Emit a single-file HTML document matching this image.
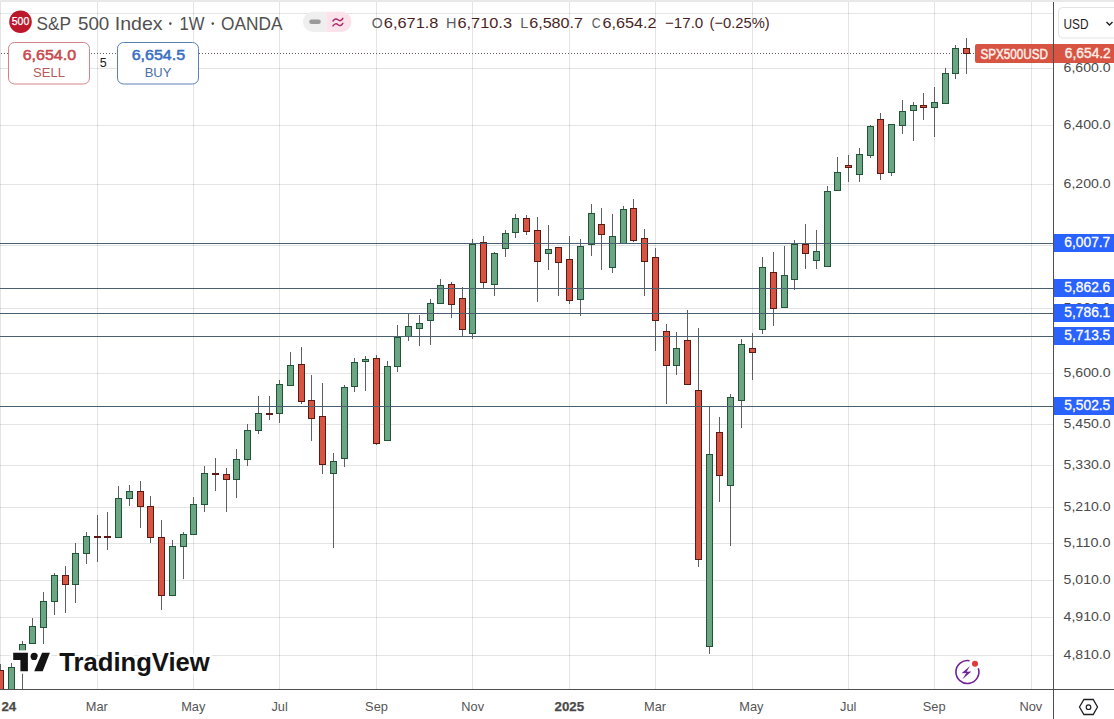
<!DOCTYPE html>
<html><head><meta charset="utf-8"><title>S&amp;P 500 Index chart</title>
<style>
html,body{margin:0;padding:0;background:#fff;}
body{width:1114px;height:719px;overflow:hidden;position:relative;font-family:'Liberation Sans', sans-serif;}
svg{position:absolute;left:0;top:0;display:block;}
text{font-family:'Liberation Sans', sans-serif;}
</style></head><body>
<svg width="1114" height="719" viewBox="0 0 1114 719" shape-rendering="crispEdges">
<rect x="0" y="0" width="1114" height="719" fill="#ffffff"/>
<rect x="0" y="0" width="1114" height="2" fill="#e9e9e9"/>

<rect x="0" y="2" width="1" height="687" fill="rgba(0,0,0,0.105)"/>
<rect x="97" y="2" width="1" height="687" fill="rgba(0,0,0,0.105)"/>
<rect x="193" y="2" width="1" height="687" fill="rgba(0,0,0,0.105)"/>
<rect x="279" y="2" width="1" height="687" fill="rgba(0,0,0,0.105)"/>
<rect x="376" y="2" width="1" height="687" fill="rgba(0,0,0,0.105)"/>
<rect x="472" y="2" width="1" height="687" fill="rgba(0,0,0,0.105)"/>
<rect x="569" y="2" width="1" height="687" fill="rgba(0,0,0,0.105)"/>
<rect x="655" y="2" width="1" height="687" fill="rgba(0,0,0,0.105)"/>
<rect x="752" y="2" width="1" height="687" fill="rgba(0,0,0,0.105)"/>
<rect x="848" y="2" width="1" height="687" fill="rgba(0,0,0,0.105)"/>
<rect x="934" y="2" width="1" height="687" fill="rgba(0,0,0,0.105)"/>
<rect x="1031" y="2" width="1" height="687" fill="rgba(0,0,0,0.105)"/>
<rect x="0" y="13" width="1053" height="1" fill="rgba(0,0,0,0.105)"/>
<rect x="0" y="68" width="1053" height="1" fill="rgba(0,0,0,0.105)"/>
<rect x="0" y="125" width="1053" height="1" fill="rgba(0,0,0,0.105)"/>
<rect x="0" y="184" width="1053" height="1" fill="rgba(0,0,0,0.105)"/>
<rect x="0" y="245" width="1053" height="1" fill="rgba(0,0,0,0.105)"/>
<rect x="0" y="308" width="1053" height="1" fill="rgba(0,0,0,0.105)"/>
<rect x="0" y="373" width="1053" height="1" fill="rgba(0,0,0,0.105)"/>
<rect x="0" y="424" width="1053" height="1" fill="rgba(0,0,0,0.105)"/>
<rect x="0" y="465" width="1053" height="1" fill="rgba(0,0,0,0.105)"/>
<rect x="0" y="507" width="1053" height="1" fill="rgba(0,0,0,0.105)"/>
<rect x="0" y="543" width="1053" height="1" fill="rgba(0,0,0,0.105)"/>
<rect x="0" y="580" width="1053" height="1" fill="rgba(0,0,0,0.105)"/>
<rect x="0" y="617" width="1053" height="1" fill="rgba(0,0,0,0.105)"/>
<rect x="0" y="655" width="1053" height="1" fill="rgba(0,0,0,0.105)"/>
<rect x="1" y="53" width="1" height="1" fill="#6a5c5a"/><rect x="4" y="53" width="1" height="1" fill="#6a5c5a"/><rect x="7" y="53" width="1" height="1" fill="#6a5c5a"/><rect x="10" y="53" width="1" height="1" fill="#6a5c5a"/><rect x="13" y="53" width="1" height="1" fill="#6a5c5a"/><rect x="16" y="53" width="1" height="1" fill="#6a5c5a"/><rect x="19" y="53" width="1" height="1" fill="#6a5c5a"/><rect x="22" y="53" width="1" height="1" fill="#6a5c5a"/><rect x="25" y="53" width="1" height="1" fill="#6a5c5a"/><rect x="28" y="53" width="1" height="1" fill="#6a5c5a"/><rect x="31" y="53" width="1" height="1" fill="#6a5c5a"/><rect x="34" y="53" width="1" height="1" fill="#6a5c5a"/><rect x="37" y="53" width="1" height="1" fill="#6a5c5a"/><rect x="40" y="53" width="1" height="1" fill="#6a5c5a"/><rect x="43" y="53" width="1" height="1" fill="#6a5c5a"/><rect x="46" y="53" width="1" height="1" fill="#6a5c5a"/><rect x="49" y="53" width="1" height="1" fill="#6a5c5a"/><rect x="52" y="53" width="1" height="1" fill="#6a5c5a"/><rect x="55" y="53" width="1" height="1" fill="#6a5c5a"/><rect x="58" y="53" width="1" height="1" fill="#6a5c5a"/><rect x="61" y="53" width="1" height="1" fill="#6a5c5a"/><rect x="64" y="53" width="1" height="1" fill="#6a5c5a"/><rect x="67" y="53" width="1" height="1" fill="#6a5c5a"/><rect x="70" y="53" width="1" height="1" fill="#6a5c5a"/><rect x="73" y="53" width="1" height="1" fill="#6a5c5a"/><rect x="76" y="53" width="1" height="1" fill="#6a5c5a"/><rect x="79" y="53" width="1" height="1" fill="#6a5c5a"/><rect x="82" y="53" width="1" height="1" fill="#6a5c5a"/><rect x="85" y="53" width="1" height="1" fill="#6a5c5a"/><rect x="88" y="53" width="1" height="1" fill="#6a5c5a"/><rect x="91" y="53" width="1" height="1" fill="#6a5c5a"/><rect x="94" y="53" width="1" height="1" fill="#6a5c5a"/><rect x="97" y="53" width="1" height="1" fill="#6a5c5a"/><rect x="100" y="53" width="1" height="1" fill="#6a5c5a"/><rect x="103" y="53" width="1" height="1" fill="#6a5c5a"/><rect x="106" y="53" width="1" height="1" fill="#6a5c5a"/><rect x="109" y="53" width="1" height="1" fill="#6a5c5a"/><rect x="112" y="53" width="1" height="1" fill="#6a5c5a"/><rect x="115" y="53" width="1" height="1" fill="#6a5c5a"/><rect x="118" y="53" width="1" height="1" fill="#6a5c5a"/><rect x="121" y="53" width="1" height="1" fill="#6a5c5a"/><rect x="124" y="53" width="1" height="1" fill="#6a5c5a"/><rect x="127" y="53" width="1" height="1" fill="#6a5c5a"/><rect x="130" y="53" width="1" height="1" fill="#6a5c5a"/><rect x="133" y="53" width="1" height="1" fill="#6a5c5a"/><rect x="136" y="53" width="1" height="1" fill="#6a5c5a"/><rect x="139" y="53" width="1" height="1" fill="#6a5c5a"/><rect x="142" y="53" width="1" height="1" fill="#6a5c5a"/><rect x="145" y="53" width="1" height="1" fill="#6a5c5a"/><rect x="148" y="53" width="1" height="1" fill="#6a5c5a"/><rect x="151" y="53" width="1" height="1" fill="#6a5c5a"/><rect x="154" y="53" width="1" height="1" fill="#6a5c5a"/><rect x="157" y="53" width="1" height="1" fill="#6a5c5a"/><rect x="160" y="53" width="1" height="1" fill="#6a5c5a"/><rect x="163" y="53" width="1" height="1" fill="#6a5c5a"/><rect x="166" y="53" width="1" height="1" fill="#6a5c5a"/><rect x="169" y="53" width="1" height="1" fill="#6a5c5a"/><rect x="172" y="53" width="1" height="1" fill="#6a5c5a"/><rect x="175" y="53" width="1" height="1" fill="#6a5c5a"/><rect x="178" y="53" width="1" height="1" fill="#6a5c5a"/><rect x="181" y="53" width="1" height="1" fill="#6a5c5a"/><rect x="184" y="53" width="1" height="1" fill="#6a5c5a"/><rect x="187" y="53" width="1" height="1" fill="#6a5c5a"/><rect x="190" y="53" width="1" height="1" fill="#6a5c5a"/><rect x="193" y="53" width="1" height="1" fill="#6a5c5a"/><rect x="196" y="53" width="1" height="1" fill="#6a5c5a"/><rect x="199" y="53" width="1" height="1" fill="#6a5c5a"/><rect x="202" y="53" width="1" height="1" fill="#6a5c5a"/><rect x="205" y="53" width="1" height="1" fill="#6a5c5a"/><rect x="208" y="53" width="1" height="1" fill="#6a5c5a"/><rect x="211" y="53" width="1" height="1" fill="#6a5c5a"/><rect x="214" y="53" width="1" height="1" fill="#6a5c5a"/><rect x="217" y="53" width="1" height="1" fill="#6a5c5a"/><rect x="220" y="53" width="1" height="1" fill="#6a5c5a"/><rect x="223" y="53" width="1" height="1" fill="#6a5c5a"/><rect x="226" y="53" width="1" height="1" fill="#6a5c5a"/><rect x="229" y="53" width="1" height="1" fill="#6a5c5a"/><rect x="232" y="53" width="1" height="1" fill="#6a5c5a"/><rect x="235" y="53" width="1" height="1" fill="#6a5c5a"/><rect x="238" y="53" width="1" height="1" fill="#6a5c5a"/><rect x="241" y="53" width="1" height="1" fill="#6a5c5a"/><rect x="244" y="53" width="1" height="1" fill="#6a5c5a"/><rect x="247" y="53" width="1" height="1" fill="#6a5c5a"/><rect x="250" y="53" width="1" height="1" fill="#6a5c5a"/><rect x="253" y="53" width="1" height="1" fill="#6a5c5a"/><rect x="256" y="53" width="1" height="1" fill="#6a5c5a"/><rect x="259" y="53" width="1" height="1" fill="#6a5c5a"/><rect x="262" y="53" width="1" height="1" fill="#6a5c5a"/><rect x="265" y="53" width="1" height="1" fill="#6a5c5a"/><rect x="268" y="53" width="1" height="1" fill="#6a5c5a"/><rect x="271" y="53" width="1" height="1" fill="#6a5c5a"/><rect x="274" y="53" width="1" height="1" fill="#6a5c5a"/><rect x="277" y="53" width="1" height="1" fill="#6a5c5a"/><rect x="280" y="53" width="1" height="1" fill="#6a5c5a"/><rect x="283" y="53" width="1" height="1" fill="#6a5c5a"/><rect x="286" y="53" width="1" height="1" fill="#6a5c5a"/><rect x="289" y="53" width="1" height="1" fill="#6a5c5a"/><rect x="292" y="53" width="1" height="1" fill="#6a5c5a"/><rect x="295" y="53" width="1" height="1" fill="#6a5c5a"/><rect x="298" y="53" width="1" height="1" fill="#6a5c5a"/><rect x="301" y="53" width="1" height="1" fill="#6a5c5a"/><rect x="304" y="53" width="1" height="1" fill="#6a5c5a"/><rect x="307" y="53" width="1" height="1" fill="#6a5c5a"/><rect x="310" y="53" width="1" height="1" fill="#6a5c5a"/><rect x="313" y="53" width="1" height="1" fill="#6a5c5a"/><rect x="316" y="53" width="1" height="1" fill="#6a5c5a"/><rect x="319" y="53" width="1" height="1" fill="#6a5c5a"/><rect x="322" y="53" width="1" height="1" fill="#6a5c5a"/><rect x="325" y="53" width="1" height="1" fill="#6a5c5a"/><rect x="328" y="53" width="1" height="1" fill="#6a5c5a"/><rect x="331" y="53" width="1" height="1" fill="#6a5c5a"/><rect x="334" y="53" width="1" height="1" fill="#6a5c5a"/><rect x="337" y="53" width="1" height="1" fill="#6a5c5a"/><rect x="340" y="53" width="1" height="1" fill="#6a5c5a"/><rect x="343" y="53" width="1" height="1" fill="#6a5c5a"/><rect x="346" y="53" width="1" height="1" fill="#6a5c5a"/><rect x="349" y="53" width="1" height="1" fill="#6a5c5a"/><rect x="352" y="53" width="1" height="1" fill="#6a5c5a"/><rect x="355" y="53" width="1" height="1" fill="#6a5c5a"/><rect x="358" y="53" width="1" height="1" fill="#6a5c5a"/><rect x="361" y="53" width="1" height="1" fill="#6a5c5a"/><rect x="364" y="53" width="1" height="1" fill="#6a5c5a"/><rect x="367" y="53" width="1" height="1" fill="#6a5c5a"/><rect x="370" y="53" width="1" height="1" fill="#6a5c5a"/><rect x="373" y="53" width="1" height="1" fill="#6a5c5a"/><rect x="376" y="53" width="1" height="1" fill="#6a5c5a"/><rect x="379" y="53" width="1" height="1" fill="#6a5c5a"/><rect x="382" y="53" width="1" height="1" fill="#6a5c5a"/><rect x="385" y="53" width="1" height="1" fill="#6a5c5a"/><rect x="388" y="53" width="1" height="1" fill="#6a5c5a"/><rect x="391" y="53" width="1" height="1" fill="#6a5c5a"/><rect x="394" y="53" width="1" height="1" fill="#6a5c5a"/><rect x="397" y="53" width="1" height="1" fill="#6a5c5a"/><rect x="400" y="53" width="1" height="1" fill="#6a5c5a"/><rect x="403" y="53" width="1" height="1" fill="#6a5c5a"/><rect x="406" y="53" width="1" height="1" fill="#6a5c5a"/><rect x="409" y="53" width="1" height="1" fill="#6a5c5a"/><rect x="412" y="53" width="1" height="1" fill="#6a5c5a"/><rect x="415" y="53" width="1" height="1" fill="#6a5c5a"/><rect x="418" y="53" width="1" height="1" fill="#6a5c5a"/><rect x="421" y="53" width="1" height="1" fill="#6a5c5a"/><rect x="424" y="53" width="1" height="1" fill="#6a5c5a"/><rect x="427" y="53" width="1" height="1" fill="#6a5c5a"/><rect x="430" y="53" width="1" height="1" fill="#6a5c5a"/><rect x="433" y="53" width="1" height="1" fill="#6a5c5a"/><rect x="436" y="53" width="1" height="1" fill="#6a5c5a"/><rect x="439" y="53" width="1" height="1" fill="#6a5c5a"/><rect x="442" y="53" width="1" height="1" fill="#6a5c5a"/><rect x="445" y="53" width="1" height="1" fill="#6a5c5a"/><rect x="448" y="53" width="1" height="1" fill="#6a5c5a"/><rect x="451" y="53" width="1" height="1" fill="#6a5c5a"/><rect x="454" y="53" width="1" height="1" fill="#6a5c5a"/><rect x="457" y="53" width="1" height="1" fill="#6a5c5a"/><rect x="460" y="53" width="1" height="1" fill="#6a5c5a"/><rect x="463" y="53" width="1" height="1" fill="#6a5c5a"/><rect x="466" y="53" width="1" height="1" fill="#6a5c5a"/><rect x="469" y="53" width="1" height="1" fill="#6a5c5a"/><rect x="472" y="53" width="1" height="1" fill="#6a5c5a"/><rect x="475" y="53" width="1" height="1" fill="#6a5c5a"/><rect x="478" y="53" width="1" height="1" fill="#6a5c5a"/><rect x="481" y="53" width="1" height="1" fill="#6a5c5a"/><rect x="484" y="53" width="1" height="1" fill="#6a5c5a"/><rect x="487" y="53" width="1" height="1" fill="#6a5c5a"/><rect x="490" y="53" width="1" height="1" fill="#6a5c5a"/><rect x="493" y="53" width="1" height="1" fill="#6a5c5a"/><rect x="496" y="53" width="1" height="1" fill="#6a5c5a"/><rect x="499" y="53" width="1" height="1" fill="#6a5c5a"/><rect x="502" y="53" width="1" height="1" fill="#6a5c5a"/><rect x="505" y="53" width="1" height="1" fill="#6a5c5a"/><rect x="508" y="53" width="1" height="1" fill="#6a5c5a"/><rect x="511" y="53" width="1" height="1" fill="#6a5c5a"/><rect x="514" y="53" width="1" height="1" fill="#6a5c5a"/><rect x="517" y="53" width="1" height="1" fill="#6a5c5a"/><rect x="520" y="53" width="1" height="1" fill="#6a5c5a"/><rect x="523" y="53" width="1" height="1" fill="#6a5c5a"/><rect x="526" y="53" width="1" height="1" fill="#6a5c5a"/><rect x="529" y="53" width="1" height="1" fill="#6a5c5a"/><rect x="532" y="53" width="1" height="1" fill="#6a5c5a"/><rect x="535" y="53" width="1" height="1" fill="#6a5c5a"/><rect x="538" y="53" width="1" height="1" fill="#6a5c5a"/><rect x="541" y="53" width="1" height="1" fill="#6a5c5a"/><rect x="544" y="53" width="1" height="1" fill="#6a5c5a"/><rect x="547" y="53" width="1" height="1" fill="#6a5c5a"/><rect x="550" y="53" width="1" height="1" fill="#6a5c5a"/><rect x="553" y="53" width="1" height="1" fill="#6a5c5a"/><rect x="556" y="53" width="1" height="1" fill="#6a5c5a"/><rect x="559" y="53" width="1" height="1" fill="#6a5c5a"/><rect x="562" y="53" width="1" height="1" fill="#6a5c5a"/><rect x="565" y="53" width="1" height="1" fill="#6a5c5a"/><rect x="568" y="53" width="1" height="1" fill="#6a5c5a"/><rect x="571" y="53" width="1" height="1" fill="#6a5c5a"/><rect x="574" y="53" width="1" height="1" fill="#6a5c5a"/><rect x="577" y="53" width="1" height="1" fill="#6a5c5a"/><rect x="580" y="53" width="1" height="1" fill="#6a5c5a"/><rect x="583" y="53" width="1" height="1" fill="#6a5c5a"/><rect x="586" y="53" width="1" height="1" fill="#6a5c5a"/><rect x="589" y="53" width="1" height="1" fill="#6a5c5a"/><rect x="592" y="53" width="1" height="1" fill="#6a5c5a"/><rect x="595" y="53" width="1" height="1" fill="#6a5c5a"/><rect x="598" y="53" width="1" height="1" fill="#6a5c5a"/><rect x="601" y="53" width="1" height="1" fill="#6a5c5a"/><rect x="604" y="53" width="1" height="1" fill="#6a5c5a"/><rect x="607" y="53" width="1" height="1" fill="#6a5c5a"/><rect x="610" y="53" width="1" height="1" fill="#6a5c5a"/><rect x="613" y="53" width="1" height="1" fill="#6a5c5a"/><rect x="616" y="53" width="1" height="1" fill="#6a5c5a"/><rect x="619" y="53" width="1" height="1" fill="#6a5c5a"/><rect x="622" y="53" width="1" height="1" fill="#6a5c5a"/><rect x="625" y="53" width="1" height="1" fill="#6a5c5a"/><rect x="628" y="53" width="1" height="1" fill="#6a5c5a"/><rect x="631" y="53" width="1" height="1" fill="#6a5c5a"/><rect x="634" y="53" width="1" height="1" fill="#6a5c5a"/><rect x="637" y="53" width="1" height="1" fill="#6a5c5a"/><rect x="640" y="53" width="1" height="1" fill="#6a5c5a"/><rect x="643" y="53" width="1" height="1" fill="#6a5c5a"/><rect x="646" y="53" width="1" height="1" fill="#6a5c5a"/><rect x="649" y="53" width="1" height="1" fill="#6a5c5a"/><rect x="652" y="53" width="1" height="1" fill="#6a5c5a"/><rect x="655" y="53" width="1" height="1" fill="#6a5c5a"/><rect x="658" y="53" width="1" height="1" fill="#6a5c5a"/><rect x="661" y="53" width="1" height="1" fill="#6a5c5a"/><rect x="664" y="53" width="1" height="1" fill="#6a5c5a"/><rect x="667" y="53" width="1" height="1" fill="#6a5c5a"/><rect x="670" y="53" width="1" height="1" fill="#6a5c5a"/><rect x="673" y="53" width="1" height="1" fill="#6a5c5a"/><rect x="676" y="53" width="1" height="1" fill="#6a5c5a"/><rect x="679" y="53" width="1" height="1" fill="#6a5c5a"/><rect x="682" y="53" width="1" height="1" fill="#6a5c5a"/><rect x="685" y="53" width="1" height="1" fill="#6a5c5a"/><rect x="688" y="53" width="1" height="1" fill="#6a5c5a"/><rect x="691" y="53" width="1" height="1" fill="#6a5c5a"/><rect x="694" y="53" width="1" height="1" fill="#6a5c5a"/><rect x="697" y="53" width="1" height="1" fill="#6a5c5a"/><rect x="700" y="53" width="1" height="1" fill="#6a5c5a"/><rect x="703" y="53" width="1" height="1" fill="#6a5c5a"/><rect x="706" y="53" width="1" height="1" fill="#6a5c5a"/><rect x="709" y="53" width="1" height="1" fill="#6a5c5a"/><rect x="712" y="53" width="1" height="1" fill="#6a5c5a"/><rect x="715" y="53" width="1" height="1" fill="#6a5c5a"/><rect x="718" y="53" width="1" height="1" fill="#6a5c5a"/><rect x="721" y="53" width="1" height="1" fill="#6a5c5a"/><rect x="724" y="53" width="1" height="1" fill="#6a5c5a"/><rect x="727" y="53" width="1" height="1" fill="#6a5c5a"/><rect x="730" y="53" width="1" height="1" fill="#6a5c5a"/><rect x="733" y="53" width="1" height="1" fill="#6a5c5a"/><rect x="736" y="53" width="1" height="1" fill="#6a5c5a"/><rect x="739" y="53" width="1" height="1" fill="#6a5c5a"/><rect x="742" y="53" width="1" height="1" fill="#6a5c5a"/><rect x="745" y="53" width="1" height="1" fill="#6a5c5a"/><rect x="748" y="53" width="1" height="1" fill="#6a5c5a"/><rect x="751" y="53" width="1" height="1" fill="#6a5c5a"/><rect x="754" y="53" width="1" height="1" fill="#6a5c5a"/><rect x="757" y="53" width="1" height="1" fill="#6a5c5a"/><rect x="760" y="53" width="1" height="1" fill="#6a5c5a"/><rect x="763" y="53" width="1" height="1" fill="#6a5c5a"/><rect x="766" y="53" width="1" height="1" fill="#6a5c5a"/><rect x="769" y="53" width="1" height="1" fill="#6a5c5a"/><rect x="772" y="53" width="1" height="1" fill="#6a5c5a"/><rect x="775" y="53" width="1" height="1" fill="#6a5c5a"/><rect x="778" y="53" width="1" height="1" fill="#6a5c5a"/><rect x="781" y="53" width="1" height="1" fill="#6a5c5a"/><rect x="784" y="53" width="1" height="1" fill="#6a5c5a"/><rect x="787" y="53" width="1" height="1" fill="#6a5c5a"/><rect x="790" y="53" width="1" height="1" fill="#6a5c5a"/><rect x="793" y="53" width="1" height="1" fill="#6a5c5a"/><rect x="796" y="53" width="1" height="1" fill="#6a5c5a"/><rect x="799" y="53" width="1" height="1" fill="#6a5c5a"/><rect x="802" y="53" width="1" height="1" fill="#6a5c5a"/><rect x="805" y="53" width="1" height="1" fill="#6a5c5a"/><rect x="808" y="53" width="1" height="1" fill="#6a5c5a"/><rect x="811" y="53" width="1" height="1" fill="#6a5c5a"/><rect x="814" y="53" width="1" height="1" fill="#6a5c5a"/><rect x="817" y="53" width="1" height="1" fill="#6a5c5a"/><rect x="820" y="53" width="1" height="1" fill="#6a5c5a"/><rect x="823" y="53" width="1" height="1" fill="#6a5c5a"/><rect x="826" y="53" width="1" height="1" fill="#6a5c5a"/><rect x="829" y="53" width="1" height="1" fill="#6a5c5a"/><rect x="832" y="53" width="1" height="1" fill="#6a5c5a"/><rect x="835" y="53" width="1" height="1" fill="#6a5c5a"/><rect x="838" y="53" width="1" height="1" fill="#6a5c5a"/><rect x="841" y="53" width="1" height="1" fill="#6a5c5a"/><rect x="844" y="53" width="1" height="1" fill="#6a5c5a"/><rect x="847" y="53" width="1" height="1" fill="#6a5c5a"/><rect x="850" y="53" width="1" height="1" fill="#6a5c5a"/><rect x="853" y="53" width="1" height="1" fill="#6a5c5a"/><rect x="856" y="53" width="1" height="1" fill="#6a5c5a"/><rect x="859" y="53" width="1" height="1" fill="#6a5c5a"/><rect x="862" y="53" width="1" height="1" fill="#6a5c5a"/><rect x="865" y="53" width="1" height="1" fill="#6a5c5a"/><rect x="868" y="53" width="1" height="1" fill="#6a5c5a"/><rect x="871" y="53" width="1" height="1" fill="#6a5c5a"/><rect x="874" y="53" width="1" height="1" fill="#6a5c5a"/><rect x="877" y="53" width="1" height="1" fill="#6a5c5a"/><rect x="880" y="53" width="1" height="1" fill="#6a5c5a"/><rect x="883" y="53" width="1" height="1" fill="#6a5c5a"/><rect x="886" y="53" width="1" height="1" fill="#6a5c5a"/><rect x="889" y="53" width="1" height="1" fill="#6a5c5a"/><rect x="892" y="53" width="1" height="1" fill="#6a5c5a"/><rect x="895" y="53" width="1" height="1" fill="#6a5c5a"/><rect x="898" y="53" width="1" height="1" fill="#6a5c5a"/><rect x="901" y="53" width="1" height="1" fill="#6a5c5a"/><rect x="904" y="53" width="1" height="1" fill="#6a5c5a"/><rect x="907" y="53" width="1" height="1" fill="#6a5c5a"/><rect x="910" y="53" width="1" height="1" fill="#6a5c5a"/><rect x="913" y="53" width="1" height="1" fill="#6a5c5a"/><rect x="916" y="53" width="1" height="1" fill="#6a5c5a"/><rect x="919" y="53" width="1" height="1" fill="#6a5c5a"/><rect x="922" y="53" width="1" height="1" fill="#6a5c5a"/><rect x="925" y="53" width="1" height="1" fill="#6a5c5a"/><rect x="928" y="53" width="1" height="1" fill="#6a5c5a"/><rect x="931" y="53" width="1" height="1" fill="#6a5c5a"/><rect x="934" y="53" width="1" height="1" fill="#6a5c5a"/><rect x="937" y="53" width="1" height="1" fill="#6a5c5a"/><rect x="940" y="53" width="1" height="1" fill="#6a5c5a"/><rect x="943" y="53" width="1" height="1" fill="#6a5c5a"/><rect x="946" y="53" width="1" height="1" fill="#6a5c5a"/><rect x="949" y="53" width="1" height="1" fill="#6a5c5a"/><rect x="952" y="53" width="1" height="1" fill="#6a5c5a"/><rect x="955" y="53" width="1" height="1" fill="#6a5c5a"/><rect x="958" y="53" width="1" height="1" fill="#6a5c5a"/><rect x="961" y="53" width="1" height="1" fill="#6a5c5a"/><rect x="964" y="53" width="1" height="1" fill="#6a5c5a"/><rect x="967" y="53" width="1" height="1" fill="#6a5c5a"/><rect x="970" y="53" width="1" height="1" fill="#6a5c5a"/><rect x="973" y="53" width="1" height="1" fill="#6a5c5a"/>
<rect x="0" y="664" width="1" height="25" fill="#5f5f62"/>
<rect x="-3" y="670" width="7" height="19" fill="#5b1a13"/>
<rect x="-2" y="671" width="5" height="18" fill="#d75442"/>
<rect x="11" y="663" width="1" height="26" fill="#5f5f62"/>
<rect x="8" y="667" width="7" height="22" fill="#225437"/>
<rect x="9" y="668" width="5" height="21" fill="#6ba583"/>
<rect x="22" y="641" width="1" height="48" fill="#5f5f62"/>
<rect x="19" y="644" width="7" height="7" fill="#225437"/>
<rect x="20" y="645" width="5" height="5" fill="#6ba583"/>
<rect x="32" y="618" width="1" height="26" fill="#5f5f62"/>
<rect x="29" y="626" width="7" height="18" fill="#225437"/>
<rect x="30" y="627" width="5" height="16" fill="#6ba583"/>
<rect x="43" y="592" width="1" height="52" fill="#5f5f62"/>
<rect x="40" y="601" width="7" height="27" fill="#225437"/>
<rect x="41" y="602" width="5" height="25" fill="#6ba583"/>
<rect x="54" y="573" width="1" height="42" fill="#5f5f62"/>
<rect x="51" y="575" width="7" height="27" fill="#225437"/>
<rect x="52" y="576" width="5" height="25" fill="#6ba583"/>
<rect x="65" y="566" width="1" height="47" fill="#5f5f62"/>
<rect x="62" y="575" width="7" height="10" fill="#5b1a13"/>
<rect x="63" y="576" width="5" height="8" fill="#d75442"/>
<rect x="75" y="543" width="1" height="60" fill="#5f5f62"/>
<rect x="72" y="553" width="7" height="32" fill="#225437"/>
<rect x="73" y="554" width="5" height="30" fill="#6ba583"/>
<rect x="86" y="532" width="1" height="32" fill="#5f5f62"/>
<rect x="83" y="536" width="7" height="18" fill="#225437"/>
<rect x="84" y="537" width="5" height="16" fill="#6ba583"/>
<rect x="97" y="515" width="1" height="47" fill="#5f5f62"/>
<rect x="94" y="536" width="7" height="2" fill="#5b1a13"/>
<rect x="107" y="512" width="1" height="38" fill="#5f5f62"/>
<rect x="104" y="536" width="7" height="2" fill="#5b1a13"/>
<rect x="118" y="486" width="1" height="51" fill="#5f5f62"/>
<rect x="115" y="498" width="7" height="40" fill="#225437"/>
<rect x="116" y="499" width="5" height="38" fill="#6ba583"/>
<rect x="129" y="485" width="1" height="21" fill="#5f5f62"/>
<rect x="126" y="491" width="7" height="8" fill="#225437"/>
<rect x="127" y="492" width="5" height="6" fill="#6ba583"/>
<rect x="140" y="481" width="1" height="47" fill="#5f5f62"/>
<rect x="137" y="491" width="7" height="16" fill="#5b1a13"/>
<rect x="138" y="492" width="5" height="14" fill="#d75442"/>
<rect x="150" y="496" width="1" height="47" fill="#5f5f62"/>
<rect x="147" y="506" width="7" height="32" fill="#5b1a13"/>
<rect x="148" y="507" width="5" height="30" fill="#d75442"/>
<rect x="161" y="520" width="1" height="90" fill="#5f5f62"/>
<rect x="158" y="537" width="7" height="59" fill="#5b1a13"/>
<rect x="159" y="538" width="5" height="57" fill="#d75442"/>
<rect x="172" y="540" width="1" height="55" fill="#5f5f62"/>
<rect x="169" y="546" width="7" height="50" fill="#225437"/>
<rect x="170" y="547" width="5" height="48" fill="#6ba583"/>
<rect x="183" y="532" width="1" height="47" fill="#5f5f62"/>
<rect x="180" y="534" width="7" height="13" fill="#225437"/>
<rect x="181" y="535" width="5" height="11" fill="#6ba583"/>
<rect x="193" y="497" width="1" height="37" fill="#5f5f62"/>
<rect x="190" y="504" width="7" height="31" fill="#225437"/>
<rect x="191" y="505" width="5" height="29" fill="#6ba583"/>
<rect x="204" y="466" width="1" height="46" fill="#5f5f62"/>
<rect x="201" y="473" width="7" height="32" fill="#225437"/>
<rect x="202" y="474" width="5" height="30" fill="#6ba583"/>
<rect x="215" y="458" width="1" height="33" fill="#5f5f62"/>
<rect x="212" y="473" width="7" height="2" fill="#5b1a13"/>
<rect x="226" y="468" width="1" height="44" fill="#5f5f62"/>
<rect x="223" y="474" width="7" height="6" fill="#5b1a13"/>
<rect x="224" y="475" width="5" height="4" fill="#d75442"/>
<rect x="236" y="449" width="1" height="49" fill="#5f5f62"/>
<rect x="233" y="459" width="7" height="21" fill="#225437"/>
<rect x="234" y="460" width="5" height="19" fill="#6ba583"/>
<rect x="247" y="424" width="1" height="42" fill="#5f5f62"/>
<rect x="244" y="430" width="7" height="30" fill="#225437"/>
<rect x="245" y="431" width="5" height="28" fill="#6ba583"/>
<rect x="258" y="396" width="1" height="38" fill="#5f5f62"/>
<rect x="255" y="413" width="7" height="18" fill="#225437"/>
<rect x="256" y="414" width="5" height="16" fill="#6ba583"/>
<rect x="269" y="396" width="1" height="24" fill="#5f5f62"/>
<rect x="266" y="413" width="7" height="2" fill="#5b1a13"/>
<rect x="279" y="380" width="1" height="43" fill="#5f5f62"/>
<rect x="276" y="384" width="7" height="30" fill="#225437"/>
<rect x="277" y="385" width="5" height="28" fill="#6ba583"/>
<rect x="290" y="352" width="1" height="33" fill="#5f5f62"/>
<rect x="287" y="365" width="7" height="21" fill="#225437"/>
<rect x="288" y="366" width="5" height="19" fill="#6ba583"/>
<rect x="301" y="347" width="1" height="57" fill="#5f5f62"/>
<rect x="298" y="364" width="7" height="38" fill="#5b1a13"/>
<rect x="299" y="365" width="5" height="36" fill="#d75442"/>
<rect x="311" y="375" width="1" height="66" fill="#5f5f62"/>
<rect x="308" y="400" width="7" height="19" fill="#5b1a13"/>
<rect x="309" y="401" width="5" height="17" fill="#d75442"/>
<rect x="322" y="383" width="1" height="91" fill="#5f5f62"/>
<rect x="319" y="416" width="7" height="49" fill="#5b1a13"/>
<rect x="320" y="417" width="5" height="47" fill="#d75442"/>
<rect x="333" y="453" width="1" height="95" fill="#5f5f62"/>
<rect x="330" y="461" width="7" height="13" fill="#225437"/>
<rect x="331" y="462" width="5" height="11" fill="#6ba583"/>
<rect x="344" y="385" width="1" height="82" fill="#5f5f62"/>
<rect x="341" y="387" width="7" height="72" fill="#225437"/>
<rect x="342" y="388" width="5" height="70" fill="#6ba583"/>
<rect x="354" y="358" width="1" height="34" fill="#5f5f62"/>
<rect x="351" y="362" width="7" height="25" fill="#225437"/>
<rect x="352" y="363" width="5" height="23" fill="#6ba583"/>
<rect x="365" y="356" width="1" height="35" fill="#5f5f62"/>
<rect x="362" y="359" width="7" height="3" fill="#225437"/>
<rect x="363" y="360" width="5" height="1" fill="#6ba583"/>
<rect x="376" y="355" width="1" height="90" fill="#5f5f62"/>
<rect x="373" y="358" width="7" height="86" fill="#5b1a13"/>
<rect x="374" y="359" width="5" height="84" fill="#d75442"/>
<rect x="387" y="361" width="1" height="80" fill="#5f5f62"/>
<rect x="384" y="366" width="7" height="75" fill="#225437"/>
<rect x="385" y="367" width="5" height="73" fill="#6ba583"/>
<rect x="397" y="325" width="1" height="47" fill="#5f5f62"/>
<rect x="394" y="337" width="7" height="30" fill="#225437"/>
<rect x="395" y="338" width="5" height="28" fill="#6ba583"/>
<rect x="408" y="314" width="1" height="27" fill="#5f5f62"/>
<rect x="405" y="326" width="7" height="11" fill="#225437"/>
<rect x="406" y="327" width="5" height="9" fill="#6ba583"/>
<rect x="419" y="315" width="1" height="31" fill="#5f5f62"/>
<rect x="416" y="323" width="7" height="6" fill="#225437"/>
<rect x="417" y="324" width="5" height="4" fill="#6ba583"/>
<rect x="430" y="299" width="1" height="46" fill="#5f5f62"/>
<rect x="427" y="303" width="7" height="18" fill="#225437"/>
<rect x="428" y="304" width="5" height="16" fill="#6ba583"/>
<rect x="440" y="279" width="1" height="25" fill="#5f5f62"/>
<rect x="437" y="285" width="7" height="19" fill="#225437"/>
<rect x="438" y="286" width="5" height="17" fill="#6ba583"/>
<rect x="451" y="282" width="1" height="36" fill="#5f5f62"/>
<rect x="448" y="284" width="7" height="21" fill="#5b1a13"/>
<rect x="449" y="285" width="5" height="19" fill="#d75442"/>
<rect x="462" y="287" width="1" height="50" fill="#5f5f62"/>
<rect x="459" y="298" width="7" height="32" fill="#5b1a13"/>
<rect x="460" y="299" width="5" height="30" fill="#d75442"/>
<rect x="472" y="239" width="1" height="100" fill="#5f5f62"/>
<rect x="469" y="244" width="7" height="90" fill="#225437"/>
<rect x="470" y="245" width="5" height="88" fill="#6ba583"/>
<rect x="483" y="236" width="1" height="52" fill="#5f5f62"/>
<rect x="480" y="242" width="7" height="41" fill="#5b1a13"/>
<rect x="481" y="243" width="5" height="39" fill="#d75442"/>
<rect x="494" y="252" width="1" height="44" fill="#5f5f62"/>
<rect x="491" y="253" width="7" height="32" fill="#225437"/>
<rect x="492" y="254" width="5" height="30" fill="#6ba583"/>
<rect x="505" y="230" width="1" height="27" fill="#5f5f62"/>
<rect x="502" y="233" width="7" height="16" fill="#225437"/>
<rect x="503" y="234" width="5" height="14" fill="#6ba583"/>
<rect x="515" y="214" width="1" height="24" fill="#5f5f62"/>
<rect x="512" y="218" width="7" height="15" fill="#225437"/>
<rect x="513" y="219" width="5" height="13" fill="#6ba583"/>
<rect x="526" y="215" width="1" height="20" fill="#5f5f62"/>
<rect x="523" y="218" width="7" height="14" fill="#5b1a13"/>
<rect x="524" y="219" width="5" height="12" fill="#d75442"/>
<rect x="537" y="217" width="1" height="85" fill="#5f5f62"/>
<rect x="534" y="230" width="7" height="32" fill="#5b1a13"/>
<rect x="535" y="231" width="5" height="30" fill="#d75442"/>
<rect x="548" y="225" width="1" height="45" fill="#5f5f62"/>
<rect x="545" y="249" width="7" height="5" fill="#225437"/>
<rect x="546" y="250" width="5" height="3" fill="#6ba583"/>
<rect x="558" y="247" width="1" height="49" fill="#5f5f62"/>
<rect x="555" y="247" width="7" height="16" fill="#5b1a13"/>
<rect x="556" y="248" width="5" height="14" fill="#d75442"/>
<rect x="569" y="236" width="1" height="68" fill="#5f5f62"/>
<rect x="566" y="259" width="7" height="42" fill="#5b1a13"/>
<rect x="567" y="260" width="5" height="40" fill="#d75442"/>
<rect x="580" y="239" width="1" height="77" fill="#5f5f62"/>
<rect x="577" y="246" width="7" height="54" fill="#225437"/>
<rect x="578" y="247" width="5" height="52" fill="#6ba583"/>
<rect x="591" y="204" width="1" height="52" fill="#5f5f62"/>
<rect x="588" y="213" width="7" height="32" fill="#225437"/>
<rect x="589" y="214" width="5" height="30" fill="#6ba583"/>
<rect x="601" y="208" width="1" height="62" fill="#5f5f62"/>
<rect x="598" y="224" width="7" height="11" fill="#5b1a13"/>
<rect x="599" y="225" width="5" height="9" fill="#d75442"/>
<rect x="612" y="214" width="1" height="59" fill="#5f5f62"/>
<rect x="609" y="236" width="7" height="32" fill="#225437"/>
<rect x="610" y="237" width="5" height="30" fill="#6ba583"/>
<rect x="623" y="206" width="1" height="37" fill="#5f5f62"/>
<rect x="620" y="209" width="7" height="35" fill="#225437"/>
<rect x="621" y="210" width="5" height="33" fill="#6ba583"/>
<rect x="633" y="199" width="1" height="43" fill="#5f5f62"/>
<rect x="630" y="208" width="7" height="33" fill="#5b1a13"/>
<rect x="631" y="209" width="5" height="31" fill="#d75442"/>
<rect x="644" y="229" width="1" height="67" fill="#5f5f62"/>
<rect x="641" y="238" width="7" height="24" fill="#5b1a13"/>
<rect x="642" y="239" width="5" height="22" fill="#d75442"/>
<rect x="655" y="248" width="1" height="103" fill="#5f5f62"/>
<rect x="652" y="257" width="7" height="64" fill="#5b1a13"/>
<rect x="653" y="258" width="5" height="62" fill="#d75442"/>
<rect x="666" y="324" width="1" height="80" fill="#5f5f62"/>
<rect x="663" y="331" width="7" height="35" fill="#5b1a13"/>
<rect x="664" y="332" width="5" height="33" fill="#d75442"/>
<rect x="676" y="332" width="1" height="43" fill="#5f5f62"/>
<rect x="673" y="348" width="7" height="18" fill="#225437"/>
<rect x="674" y="349" width="5" height="16" fill="#6ba583"/>
<rect x="687" y="310" width="1" height="74" fill="#5f5f62"/>
<rect x="684" y="340" width="7" height="45" fill="#5b1a13"/>
<rect x="685" y="341" width="5" height="43" fill="#d75442"/>
<rect x="698" y="328" width="1" height="239" fill="#5f5f62"/>
<rect x="695" y="390" width="7" height="170" fill="#5b1a13"/>
<rect x="696" y="391" width="5" height="168" fill="#d75442"/>
<rect x="709" y="406" width="1" height="248" fill="#5f5f62"/>
<rect x="706" y="454" width="7" height="193" fill="#225437"/>
<rect x="707" y="455" width="5" height="191" fill="#6ba583"/>
<rect x="719" y="417" width="1" height="85" fill="#5f5f62"/>
<rect x="716" y="432" width="7" height="44" fill="#5b1a13"/>
<rect x="717" y="433" width="5" height="42" fill="#d75442"/>
<rect x="730" y="394" width="1" height="152" fill="#5f5f62"/>
<rect x="727" y="397" width="7" height="89" fill="#225437"/>
<rect x="728" y="398" width="5" height="87" fill="#6ba583"/>
<rect x="741" y="339" width="1" height="89" fill="#5f5f62"/>
<rect x="738" y="344" width="7" height="57" fill="#225437"/>
<rect x="739" y="345" width="5" height="55" fill="#6ba583"/>
<rect x="752" y="333" width="1" height="47" fill="#5f5f62"/>
<rect x="749" y="348" width="7" height="5" fill="#5b1a13"/>
<rect x="750" y="349" width="5" height="3" fill="#d75442"/>
<rect x="762" y="257" width="1" height="77" fill="#5f5f62"/>
<rect x="759" y="267" width="7" height="63" fill="#225437"/>
<rect x="760" y="268" width="5" height="61" fill="#6ba583"/>
<rect x="773" y="252" width="1" height="74" fill="#5f5f62"/>
<rect x="770" y="272" width="7" height="37" fill="#5b1a13"/>
<rect x="771" y="273" width="5" height="35" fill="#d75442"/>
<rect x="784" y="246" width="1" height="62" fill="#5f5f62"/>
<rect x="781" y="275" width="7" height="33" fill="#225437"/>
<rect x="782" y="276" width="5" height="31" fill="#6ba583"/>
<rect x="794" y="240" width="1" height="50" fill="#5f5f62"/>
<rect x="791" y="244" width="7" height="36" fill="#225437"/>
<rect x="792" y="245" width="5" height="34" fill="#6ba583"/>
<rect x="805" y="224" width="1" height="45" fill="#5f5f62"/>
<rect x="802" y="244" width="7" height="10" fill="#5b1a13"/>
<rect x="803" y="245" width="5" height="8" fill="#d75442"/>
<rect x="816" y="230" width="1" height="39" fill="#5f5f62"/>
<rect x="813" y="251" width="7" height="10" fill="#225437"/>
<rect x="814" y="252" width="5" height="8" fill="#6ba583"/>
<rect x="827" y="186" width="1" height="80" fill="#5f5f62"/>
<rect x="824" y="191" width="7" height="76" fill="#225437"/>
<rect x="825" y="192" width="5" height="74" fill="#6ba583"/>
<rect x="837" y="157" width="1" height="33" fill="#5f5f62"/>
<rect x="834" y="172" width="7" height="19" fill="#225437"/>
<rect x="835" y="173" width="5" height="17" fill="#6ba583"/>
<rect x="848" y="155" width="1" height="27" fill="#5f5f62"/>
<rect x="845" y="165" width="7" height="3" fill="#5b1a13"/>
<rect x="846" y="166" width="5" height="1" fill="#d75442"/>
<rect x="859" y="148" width="1" height="34" fill="#5f5f62"/>
<rect x="856" y="154" width="7" height="21" fill="#225437"/>
<rect x="857" y="155" width="5" height="19" fill="#6ba583"/>
<rect x="870" y="125" width="1" height="33" fill="#5f5f62"/>
<rect x="867" y="126" width="7" height="30" fill="#225437"/>
<rect x="868" y="127" width="5" height="28" fill="#6ba583"/>
<rect x="880" y="113" width="1" height="67" fill="#5f5f62"/>
<rect x="877" y="119" width="7" height="55" fill="#5b1a13"/>
<rect x="878" y="120" width="5" height="53" fill="#d75442"/>
<rect x="891" y="124" width="1" height="52" fill="#5f5f62"/>
<rect x="888" y="124" width="7" height="49" fill="#225437"/>
<rect x="889" y="125" width="5" height="47" fill="#6ba583"/>
<rect x="902" y="100" width="1" height="34" fill="#5f5f62"/>
<rect x="899" y="111" width="7" height="15" fill="#225437"/>
<rect x="900" y="112" width="5" height="13" fill="#6ba583"/>
<rect x="913" y="102" width="1" height="39" fill="#5f5f62"/>
<rect x="910" y="105" width="7" height="6" fill="#225437"/>
<rect x="911" y="106" width="5" height="4" fill="#6ba583"/>
<rect x="923" y="93" width="1" height="27" fill="#5f5f62"/>
<rect x="920" y="105" width="7" height="3" fill="#5b1a13"/>
<rect x="921" y="106" width="5" height="1" fill="#d75442"/>
<rect x="934" y="87" width="1" height="50" fill="#5f5f62"/>
<rect x="931" y="102" width="7" height="6" fill="#225437"/>
<rect x="932" y="103" width="5" height="4" fill="#6ba583"/>
<rect x="945" y="68" width="1" height="36" fill="#5f5f62"/>
<rect x="942" y="73" width="7" height="31" fill="#225437"/>
<rect x="943" y="74" width="5" height="29" fill="#6ba583"/>
<rect x="955" y="45" width="1" height="34" fill="#5f5f62"/>
<rect x="952" y="48" width="7" height="26" fill="#225437"/>
<rect x="953" y="49" width="5" height="24" fill="#6ba583"/>
<rect x="966" y="38" width="1" height="36" fill="#5f5f62"/>
<rect x="963" y="48" width="7" height="6" fill="#5b1a13"/>
<rect x="964" y="49" width="5" height="4" fill="#d75442"/>
<rect x="0" y="243" width="1053" height="1" fill="#4a5f70"/>
<rect x="0" y="288" width="1053" height="1" fill="#4a5f70"/>
<rect x="0" y="313" width="1053" height="1" fill="#4a5f70"/>
<rect x="0" y="336" width="1053" height="1" fill="#4a5f70"/>
<rect x="0" y="406" width="1053" height="1" fill="#4a5f70"/>
<rect x="1053" y="2" width="1" height="717" fill="#4f4f4f"/>
<rect x="0" y="689" width="1114" height="1" fill="#4f4f4f"/>
<g font-size="13.5" fill="#4a4a4a" text-anchor="end" shape-rendering="auto">
<text x="1110.6" y="72" textLength="47" lengthAdjust="spacingAndGlyphs">6,600.0</text>
<text x="1110.6" y="129" textLength="47" lengthAdjust="spacingAndGlyphs">6,400.0</text>
<text x="1110.6" y="188" textLength="47" lengthAdjust="spacingAndGlyphs">6,200.0</text>
<text x="1110.6" y="249" textLength="47" lengthAdjust="spacingAndGlyphs">6,000.0</text>
<text x="1110.6" y="312" textLength="47" lengthAdjust="spacingAndGlyphs">5,800.0</text>
<text x="1110.6" y="377" textLength="47" lengthAdjust="spacingAndGlyphs">5,600.0</text>
<text x="1110.6" y="428" textLength="47" lengthAdjust="spacingAndGlyphs">5,450.0</text>
<text x="1110.6" y="469" textLength="47" lengthAdjust="spacingAndGlyphs">5,330.0</text>
<text x="1110.6" y="511" textLength="47" lengthAdjust="spacingAndGlyphs">5,210.0</text>
<text x="1110.6" y="547" textLength="47" lengthAdjust="spacingAndGlyphs">5,110.0</text>
<text x="1110.6" y="584" textLength="47" lengthAdjust="spacingAndGlyphs">5,010.0</text>
<text x="1110.6" y="621" textLength="47" lengthAdjust="spacingAndGlyphs">4,910.0</text>
<text x="1110.6" y="659" textLength="47" lengthAdjust="spacingAndGlyphs">4,810.0</text>
</g>
<rect x="1054" y="234" width="60" height="18" fill="#2962ff"/>
<text x="1110.3" y="247" font-size="14" fill="#ffffff" stroke="#ffffff" stroke-width="0.3" text-anchor="end" textLength="46" lengthAdjust="spacingAndGlyphs" shape-rendering="auto">6,007.7</text>
<rect x="1054" y="279" width="60" height="18" fill="#2962ff"/>
<text x="1110.3" y="292" font-size="14" fill="#ffffff" stroke="#ffffff" stroke-width="0.3" text-anchor="end" textLength="46" lengthAdjust="spacingAndGlyphs" shape-rendering="auto">5,862.6</text>
<rect x="1054" y="304" width="60" height="18" fill="#2962ff"/>
<text x="1110.3" y="317" font-size="14" fill="#ffffff" stroke="#ffffff" stroke-width="0.3" text-anchor="end" textLength="46" lengthAdjust="spacingAndGlyphs" shape-rendering="auto">5,786.1</text>
<rect x="1054" y="327" width="60" height="18" fill="#2962ff"/>
<text x="1110.3" y="340" font-size="14" fill="#ffffff" stroke="#ffffff" stroke-width="0.3" text-anchor="end" textLength="46" lengthAdjust="spacingAndGlyphs" shape-rendering="auto">5,713.5</text>
<rect x="1054" y="397" width="60" height="18" fill="#2962ff"/>
<text x="1110.3" y="410" font-size="14" fill="#ffffff" stroke="#ffffff" stroke-width="0.3" text-anchor="end" textLength="46" lengthAdjust="spacingAndGlyphs" shape-rendering="auto">5,502.5</text>
<path d="M977 44 H1053 V63 H977 Q975 63 975 61 V46 Q975 44 977 44 Z" fill="#d75442" shape-rendering="auto"/>
<rect x="1053" y="44" width="61" height="19" fill="#d75442"/>
<text x="980.5" y="59" font-size="14.5" fill="#fdeee9" stroke="#fdeee9" stroke-width="0.5" textLength="67.5" lengthAdjust="spacingAndGlyphs" shape-rendering="auto">SPX500USD</text>
<text x="1110.8" y="57.8" font-size="14" fill="#fdeee9" stroke="#fdeee9" stroke-width="0.4" text-anchor="end" textLength="46" lengthAdjust="spacingAndGlyphs" shape-rendering="auto">6,654.2</text>
<rect x="1058.5" y="7.5" width="70" height="30.5" rx="4" fill="#ffffff" stroke="#e3e3e6" stroke-width="1" shape-rendering="auto"/>
<text x="1063.5" y="28.5" font-size="15" fill="#1e1e24" textLength="25" lengthAdjust="spacingAndGlyphs" shape-rendering="auto">USD</text>
<path d="M1106.5 22 L1109.5 25 L1112.5 22" fill="none" stroke="#1e1e24" stroke-width="1.4" shape-rendering="auto"/>
<rect x="1053" y="2" width="1" height="717" fill="#4f4f4f"/>
<g font-size="12.8" fill="#555555" text-anchor="middle" shape-rendering="auto">
<text x="8.8" y="710.5" font-weight="700" font-size="13.3" fill="#4a4a4a" stroke="#4a4a4a" stroke-width="0.25">24</text>
<text x="96.8" y="710.5">Mar</text>
<text x="193.3" y="710.5">May</text>
<text x="279.6" y="710.5">Jul</text>
<text x="376.5" y="710.5">Sep</text>
<text x="472.7" y="710.5">Nov</text>
<text x="569.3" y="710.5" font-weight="700" font-size="13.3" fill="#4a4a4a" stroke="#4a4a4a" stroke-width="0.25">2025</text>
<text x="655" y="710.5">Mar</text>
<text x="751.4" y="710.5">May</text>
<text x="848.2" y="710.5">Jul</text>
<text x="934.2" y="710.5">Sep</text>
<text x="1030.9" y="710.5">Nov</text>
</g>
<path d="M1083.9 699.5 L1093.2 699.5 L1097.5 707 L1093.2 714.5 L1083.9 714.5 L1079.5 707 Z" fill="none" stroke="#1e1e24" stroke-width="1.3" shape-rendering="auto"/>
<circle cx="1088.5" cy="707.2" r="2.3" fill="none" stroke="#1e1e24" stroke-width="1.2" shape-rendering="auto"/>
<g fill="#131313" stroke="#ffffff" stroke-width="5" stroke-linejoin="round" paint-order="stroke" shape-rendering="auto">
<path d="M13.2 652.8 H27.9 V671.3 H20.4 V660 H13.2 Z"/>
<circle cx="34.2" cy="656.4" r="3.6"/>
<path d="M42.1 652.8 H49.9 L42.7 671.3 H34.2 Z"/>
<text x="59.3" y="671.4" font-size="26.5" font-weight="700" textLength="150.5" lengthAdjust="spacingAndGlyphs">TradingView</text>
</g>
<g shape-rendering="auto">
<path d="M 978.3 668.3 A 11.5 11.5 0 1 1 969.6 660.7" fill="none" stroke="#6f2494" stroke-width="1.6"/>
<circle cx="975" cy="663.8" r="3" fill="#e0383e"/>
<path d="M970 665.9 L961.6 673.3 L966.3 673.1 L962.4 679.3 L971.4 671.5 L966.6 671.7 Z" fill="#6f2494"/>
</g>
<g shape-rendering="auto">
<circle cx="20.5" cy="21.8" r="11.3" fill="#bd172b"/>
<text x="20.5" y="25.2" font-size="10" fill="#ffffff" text-anchor="middle" textLength="17.5" stroke="#ffffff" stroke-width="0.25" lengthAdjust="spacingAndGlyphs">500</text>
<text x="36.5" y="29.6" font-size="18.5" fill="#505050" textLength="34.5" lengthAdjust="spacingAndGlyphs">S&amp;P</text>
<text x="78.0" y="29.6" font-size="18.5" fill="#505050" textLength="31.3" lengthAdjust="spacingAndGlyphs">500</text>
<text x="114.8" y="29.6" font-size="18.5" fill="#505050" textLength="47.8" lengthAdjust="spacingAndGlyphs">Index</text>
<text x="179.5" y="29.6" font-size="18.5" fill="#505050" textLength="25.0" lengthAdjust="spacingAndGlyphs">1W</text>
<text x="221.0" y="29.6" font-size="18.5" fill="#505050" textLength="61.4" lengthAdjust="spacingAndGlyphs">OANDA</text>
<circle cx="170.3" cy="23.6" r="1.3" fill="#505050"/>
<circle cx="212.8" cy="23.6" r="1.3" fill="#505050"/>
<path d="M313 11.8 H326.3 V31.9 H313 A10.05 10.05 0 0 1 313 11.8 Z" fill="#efefef"/>
<path d="M326.3 11.8 H341.5 A10.05 10.05 0 0 1 341.5 31.9 H326.3 Z" fill="#fce2eb"/>
<rect x="309.2" y="19.4" width="11.6" height="4.6" rx="2.3" fill="#9a9a9a"/>
<path d="M333 21 C334.6 18.6 336.4 18.4 338 19.8 C339.6 21.2 341.4 21 342.8 18.4 M333 25.9 C334.6 23.5 336.4 23.3 338 24.7 C339.6 26.1 341.4 25.9 342.8 23.3" fill="none" stroke="#ad2a6c" stroke-width="1.5" stroke-linecap="round"/>
<text x="371.8" y="27.8" font-size="15" fill="#5c5c5c" textLength="10.98" lengthAdjust="spacingAndGlyphs">O</text>
<text x="383.8" y="27.8" font-size="15" fill="#4b1f1f" textLength="54.6" lengthAdjust="spacingAndGlyphs">6,671.8</text>
<text x="446.1" y="27.8" font-size="15" fill="#5c5c5c" textLength="10.5" lengthAdjust="spacingAndGlyphs">H</text>
<text x="457.4" y="27.8" font-size="15" fill="#4b1f1f" textLength="54.6" lengthAdjust="spacingAndGlyphs">6,710.3</text>
<text x="520.2" y="27.8" font-size="15" fill="#5c5c5c" textLength="8.03" lengthAdjust="spacingAndGlyphs">L</text>
<text x="529.2" y="27.8" font-size="15" fill="#4b1f1f" textLength="53.8" lengthAdjust="spacingAndGlyphs">6,580.7</text>
<text x="591.8" y="27.8" font-size="15" fill="#5c5c5c" textLength="8.95" lengthAdjust="spacingAndGlyphs">C</text>
<text x="602.4" y="27.8" font-size="15" fill="#4b1f1f" textLength="54.2" lengthAdjust="spacingAndGlyphs">6,654.2</text>
<text x="665.0" y="27.8" font-size="15" fill="#4b1f1f" textLength="38.3" lengthAdjust="spacingAndGlyphs">−17.0</text>
<text x="709.5" y="27.8" font-size="15" fill="#4b1f1f" textLength="60.3" lengthAdjust="spacingAndGlyphs">(−0.25%)</text>
</g>
<g shape-rendering="auto">
<rect x="8.5" y="42.5" width="81" height="41.5" rx="6" fill="#ffffff" stroke="#d4838a" stroke-width="1"/>
<text x="49.4" y="60" font-size="15" fill="#c84a4f" stroke="#c84a4f" stroke-width="0.55" text-anchor="middle" textLength="53.5" lengthAdjust="spacingAndGlyphs">6,654.0</text>
<text x="49" y="76.6" font-size="13" fill="#b45a5c" text-anchor="middle">SELL</text>
<text x="103.3" y="67.2" font-size="12.5" fill="#1a1a1a" text-anchor="middle">5</text>
<rect x="117.5" y="42.5" width="81" height="41.5" rx="6" fill="#ffffff" stroke="#5a80b8" stroke-width="1"/>
<text x="158.4" y="60" font-size="15" fill="#3b6fc2" stroke="#3b6fc2" stroke-width="0.55" text-anchor="middle" textLength="53.5" lengthAdjust="spacingAndGlyphs">6,654.5</text>
<text x="158" y="76.6" font-size="13" fill="#4a6fa3" text-anchor="middle">BUY</text>
</g>
</svg></body></html>
